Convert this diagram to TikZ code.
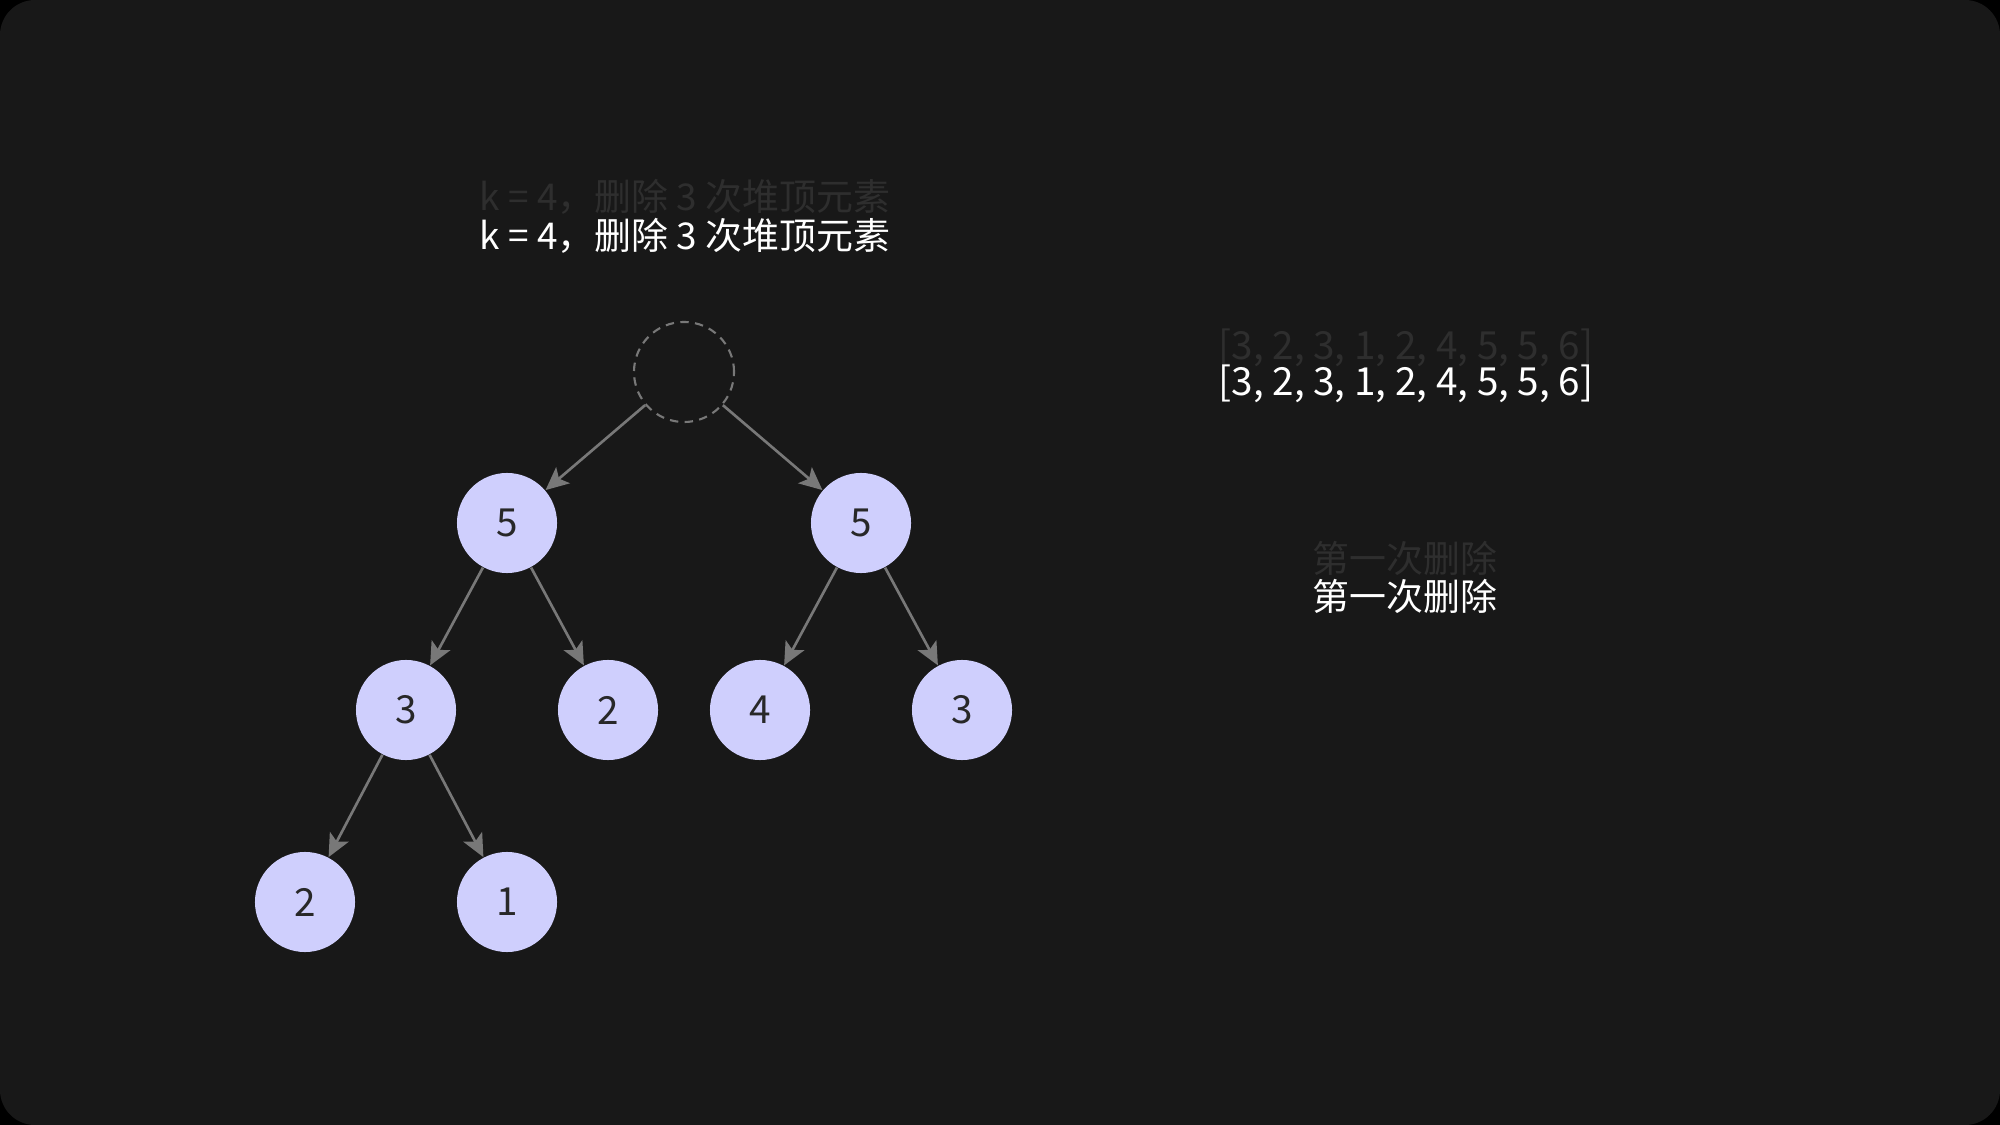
\documentclass[tikz,border=0pt]{standalone}
\usepackage{fontspec}
\newfontfamily\cjk{Noto Sans CJK SC}
\usepackage{tikz}
\usetikzlibrary{arrows.meta}
\definecolor{canvas}{RGB}{24,24,24}
\definecolor{heapfill}{RGB}{207,207,253}
\definecolor{edgegray}{RGB}{120,120,120}
\definecolor{ghost}{RGB}{46,46,46}
\definecolor{digitdark}{RGB}{40,40,40}

\begin{document}
\begin{tikzpicture}[x=0.01cm,y=-0.01cm,
    heapnode/.style={circle,fill=heapfill,minimum size=1cm,inner sep=0pt,font=\cjk\fontsize{11}{12}\selectfont,text=digitdark},
    emptynode/.style={circle,draw=edgegray,dash pattern=on 2.4pt off 1.8pt,line width=0.6pt,minimum size=1cm,inner sep=0pt},
    arr/.style={-{Stealth[length=6.5pt,width=6pt,inset=1.5pt]},line width=0.75pt,edgegray},
    caption/.style={font=\cjk\fontsize{10.5}{12}\selectfont,text=white,inner sep=0pt},
    ghosttext/.style={caption,text=ghost},
    arraytext/.style={font=\cjk\fontsize{11}{13}\selectfont}
]
\fill[black] (0,0) rectangle (2000,1125);
\fill[canvas,rounded corners=0.35cm] (0,0) rectangle (2000,1125);
\useasboundingbox (0,0) rectangle (2000,1125);

\node[emptynode] (root) at (684,372) {};
\node[heapnode] (l) at (507,523) {5};
\node[heapnode] (r) at (861,523) {5};
\node[heapnode] (ll) at (406,710) {3};
\node[heapnode] (lr) at (608,710) {2};
\node[heapnode] (rl) at (760,710) {4};
\node[heapnode] (rr) at (962,710) {3};
\node[heapnode] (lll) at (305,902) {2};
\node[heapnode] (llr) at (507,902) {1};

\draw[arr] (root) -- (l);
\draw[arr] (root) -- (r);
\draw[arr] (l) -- (ll);
\draw[arr] (l) -- (lr);
\draw[arr] (r) -- (rl);
\draw[arr] (r) -- (rr);
\draw[arr] (ll) -- (lll);
\draw[arr] (ll) -- (llr);

\node[ghosttext] (titleghost) at (685,197) {k = 4，删除 3 次堆顶元素};
\node[caption] (title) at (685,236) {k = 4，删除 3 次堆顶元素};
\node[ghosttext,arraytext] (arrayghost) at (1406,348) {[3, 2, 3, 1, 2, 4, 5, 5, 6]};
\node[caption,arraytext] (array) at (1406,384) {[3, 2, 3, 1, 2, 4, 5, 5, 6]};
\node[ghosttext] (stepghost) at (1405,558) {第一次删除};
\node[caption] (step) at (1405,596) {第一次删除};
\end{tikzpicture}
\end{document}
